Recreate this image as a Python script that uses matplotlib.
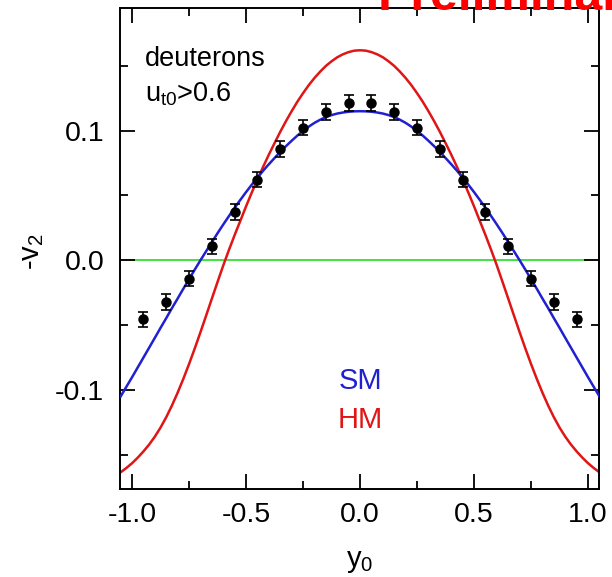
import matplotlib
matplotlib.use("Agg")
import matplotlib.pyplot as plt
import numpy as np

# ---- data ----
y0_pts = [-0.95, -0.85, -0.75, -0.65, -0.55, -0.45, -0.35, -0.25, -0.15, -0.05,
          0.05, 0.15, 0.25, 0.35, 0.45, 0.55, 0.65, 0.75, 0.85, 0.95]
v2_pts = [-0.0456, -0.0322, -0.0141, 0.0108, 0.0372, 0.0622, 0.0860, 0.1023, 0.1145, 0.1215,
          0.1215, 0.1145, 0.1023, 0.0860, 0.0622, 0.0372, 0.0108, -0.0141, -0.0322, -0.0456]
v2_err = [0.006] * 20

curve_x_half = [0.000, 0.025, 0.050, 0.075, 0.100, 0.125, 0.150, 0.175, 0.200, 0.225,
                0.250, 0.275, 0.300, 0.325, 0.350, 0.375, 0.400, 0.425, 0.450, 0.475,
                0.500, 0.525, 0.550, 0.575, 0.600, 0.625, 0.650, 0.675, 0.700, 0.725,
                0.750, 0.775, 0.800, 0.825, 0.850, 0.875, 0.900, 0.925, 0.950, 0.975,
                1.000, 1.025, 1.050]
sm_half = [0.1150, 0.1149, 0.1146, 0.1140, 0.1132, 0.1120, 0.1105, 0.1084, 0.1060, 0.1031,
           0.0998, 0.0962, 0.0922, 0.0880, 0.0836, 0.0789, 0.0741, 0.0691, 0.0638, 0.0583,
           0.0526, 0.0466, 0.0405, 0.0341, 0.0276, 0.0209, 0.0140, 0.0070, 0.0000, -0.0072,
           -0.0146, -0.0219, -0.0295, -0.0369, -0.0446, -0.0521, -0.0598, -0.0674, -0.0750, -0.0826,
           -0.0902, -0.0976, -0.1050]
hm_half = [0.1620, 0.1617, 0.1606, 0.1589, 0.1566, 0.1535, 0.1499, 0.1455, 0.1406, 0.1351,
           0.1289, 0.1223, 0.1150, 0.1073, 0.0991, 0.0904, 0.0815, 0.0721, 0.0624, 0.0522,
           0.0416, 0.0305, 0.0195, 0.0080, -0.0040, -0.0167, -0.0296, -0.0426, -0.0555, -0.0680,
           -0.0800, -0.0914, -0.1021, -0.1120, -0.1210, -0.1290, -0.1360, -0.1421, -0.1474, -0.1522,
           -0.1565, -0.1602, -0.1635]

xticks = [-1.0, -0.5, 0.0, 0.5, 1.0]
yticks = [-0.1, 0.0, 0.1]

# full symmetric curves
cx = [-v for v in curve_x_half[::-1]] + curve_x_half[1:]
sm = sm_half[::-1] + sm_half[1:]
hm = hm_half[::-1] + hm_half[1:]

plt.rcParams['font.family'] = ['Liberation Sans', 'DejaVu Sans']
plt.rcParams['mathtext.fontset'] = 'custom'
plt.rcParams['mathtext.rm'] = 'Liberation Sans'
plt.rcParams['mathtext.it'] = 'Liberation Sans'

fig = plt.figure(figsize=(6.12, 5.77), dpi=100)
ax = fig.add_axes([119.5/612, 1-488.5/577, (599-119.5)/612, (488.5-8)/577])

ax.axhline(0.0, color='#22dd22', lw=1.2, zorder=1)
ax.plot(cx, hm, color='#e01515', lw=1.8, zorder=2)
ax.plot(cx, sm, color='#2020d0', lw=1.8, zorder=3)
ax.errorbar(y0_pts, v2_pts, yerr=v2_err, fmt='o', color='black', ms=6.5,
            capsize=3.5, elinewidth=1.2, capthick=1.2, zorder=4)

ax.set_xlim(-1.055, 1.048)
ax.set_ylim(-0.176, 0.1946)
ax.set_xticks(xticks)
ax.set_xticklabels(['-1.0', '-0.5', '0.0', '0.5', '1.0'])
ax.set_yticks(yticks)
ax.set_yticklabels(['-0.1', '0.0', '0.1'])
ax.set_xticks(np.arange(-1.0, 1.01, 0.25), minor=True)
ax.set_yticks(np.arange(-0.15, 0.19, 0.05), minor=True)
ax.tick_params(which='both', direction='in', top=True, right=True, width=1.3)
ax.tick_params(which='major', length=11, labelsize=20.5)
ax.tick_params(axis='x', which='major', pad=9.5)
ax.tick_params(axis='y', which='major', pad=11)
ax.tick_params(which='minor', length=5.5)
for s in ax.spines.values():
    s.set_linewidth(1.4)

ax.text(25.5/479.5, (488.5-66)/480.5, 'deuterons', transform=ax.transAxes,
        fontsize=19.5, ha='left', va='baseline')
ax.text(25.5/479.5, (488.5-101)/480.5, r'u$_{\mathrm{t0}}$>0.6', transform=ax.transAxes,
        fontsize=19.5, ha='left', va='baseline')

fig.text(360/612, 1-381/577, 'SM', color='#2020d0', fontsize=21, ha='center', va='center')
fig.text(360/612, 1-420/577, 'HM', color='#e01515', fontsize=21, ha='center', va='center')

fig.text(360/612, 1-567/577, r'y$_0$', fontsize=21, ha='center', va='baseline')
fig.text(32/612, 1-252/577, r'-v$_2$', fontsize=21, ha='center', va='center', rotation=90)

fig.text(378/612, 1-10/577, 'Preliminary', color='#ff0000', fontsize=36,
         fontweight='bold', ha='left', va='baseline')

fig.savefig('out.png', dpi=100)
